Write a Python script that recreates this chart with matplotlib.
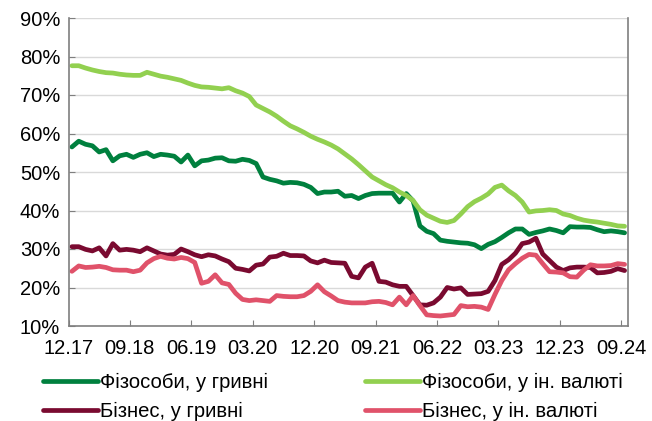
import numpy as np
import matplotlib
matplotlib.use('Agg')
import matplotlib.pyplot as plt

plt.rcParams['font.family'] = ['Liberation Sans', 'DejaVu Sans']

# підписи осі X (кожні 9 місяців, 12.17 - 09.24)
x_labels = ['12.17', '09.18', '06.19', '03.20', '12.20', '09.21', '06.22', '03.23', '12.23', '09.24']

# частки, %
hh_uah = [56.5, 58.0, 57.2, 56.8, 55.2, 55.8, 52.9, 54.2, 54.6, 53.8,
          54.6, 55.0, 54.0, 54.6, 54.4, 54.1, 52.6, 54.4, 51.6, 52.9,
          53.1, 53.6, 53.7, 52.9, 52.8, 53.3, 53.0, 52.2, 48.7, 48.1,
          47.7, 47.1, 47.3, 47.2, 46.8, 46.0, 44.4, 44.8, 44.8, 45.0,
          43.7, 43.9, 43.1, 43.9, 44.4, 44.5, 44.5, 44.5, 42.2, 44.4,
          42.5, 36.0, 34.6, 34.0, 32.3, 32.0, 31.8, 31.6, 31.5, 31.1,
          30.1, 31.2, 31.9, 33.0, 34.2, 35.2, 35.2, 33.8, 34.3, 34.7,
          35.2, 34.8, 34.2, 35.8, 35.7, 35.7, 35.6, 35.0, 34.5, 34.7,
          34.5, 34.2]
hh_fx = [77.6, 77.6, 77.0, 76.5, 76.1, 75.8, 75.7, 75.4, 75.2, 75.1,
         75.1, 75.9, 75.4, 74.9, 74.6, 74.2, 73.8, 73.1, 72.5, 72.1,
         72.0, 71.8, 71.6, 71.9, 71.1, 70.5, 69.6, 67.4, 66.5, 65.6,
         64.5, 63.2, 62.0, 61.2, 60.3, 59.3, 58.5, 57.8, 57.0, 56.0,
         54.7, 53.4, 51.9, 50.3, 48.7, 47.7, 46.7, 45.9, 44.8, 43.9,
         42.6, 40.2, 38.8, 38.0, 37.2, 36.9, 37.4, 39.1, 41.0, 42.3,
         43.2, 44.3, 46.0, 46.6, 45.1, 43.9, 42.2, 39.6, 39.9, 40.0,
         40.2, 40.0, 39.1, 38.7, 38.0, 37.5, 37.2, 37.0, 36.7, 36.4,
         36.0, 35.9]
biz_uah = [30.6, 30.6, 29.9, 29.5, 30.3, 28.2, 31.4, 29.7, 29.9, 29.7,
           29.3, 30.3, 29.5, 28.7, 28.4, 28.6, 30.0, 29.3, 28.5, 28.0,
           28.5, 28.2, 27.4, 26.7, 25.0, 24.7, 24.3, 25.8, 26.1, 27.9,
           28.1, 28.9, 28.3, 28.3, 28.2, 26.9, 26.4, 27.1, 26.5, 26.4,
           26.3, 22.9, 22.5, 25.3, 26.3, 21.6, 21.4, 20.7, 20.3, 20.3,
           17.9, 15.5, 15.4, 16.0, 17.5, 20.0, 19.6, 19.9, 18.2, 18.3,
           18.4, 19.0, 21.8, 26.0, 27.2, 28.9, 31.4, 31.8, 32.8, 28.7,
           27.0, 25.3, 24.4, 25.1, 25.3, 25.3, 25.2, 23.8, 23.9, 24.2,
           24.9, 24.4]
biz_fx = [24.2, 25.6, 25.2, 25.3, 25.5, 25.2, 24.6, 24.5, 24.5, 24.1,
          24.5, 26.4, 27.5, 28.1, 27.6, 27.4, 27.8, 27.5, 26.5, 21.1,
          21.6, 23.3, 21.2, 20.8, 18.5, 16.9, 16.6, 16.8, 16.6, 16.4,
          17.9, 17.7, 17.6, 17.6, 17.9, 19.0, 20.7, 18.9, 17.8, 16.6,
          16.2, 16.0, 16.0, 16.0, 16.3, 16.4, 16.1, 15.5, 17.5, 15.5,
          17.9, 15.3, 12.9, 12.7, 12.6, 12.8, 13.0, 15.3, 15.0, 15.1,
          14.9, 14.3, 18.2, 21.8, 24.6, 26.2, 27.6, 28.6, 28.4, 26.2,
          24.1, 24.0, 23.8, 22.8, 22.7, 24.5, 25.9, 25.6, 25.6, 25.7,
          26.2, 26.0]

x = np.arange(len(hh_uah)) + 0.5

fig = plt.figure(figsize=(6.52, 4.21), dpi=100)
ax = fig.add_axes([68.5 / 652, 1 - 326 / 421, (628 - 68.5) / 652, (326 - 18) / 421])

l1, = ax.plot(x, hh_uah, color='#00803E', lw=3.4, solid_capstyle='round', solid_joinstyle='round')
l2, = ax.plot(x, hh_fx, color='#92D050', lw=3.4, solid_capstyle='round', solid_joinstyle='round')
l3, = ax.plot(x, biz_uah, color='#7A0A30', lw=3.4, solid_capstyle='round', solid_joinstyle='round')
l4, = ax.plot(x, biz_fx, color='#E0526A', lw=3.4, solid_capstyle='round', solid_joinstyle='round')

ax.set_xlim(0, len(hh_uah))
ax.set_ylim(10, 90)
ax.set_yticks(range(10, 91, 10))
ax.set_yticklabels([f'{v}%' for v in range(10, 91, 10)])
ax.set_xticks(range(0, 82, 9))
ax.set_xticklabels(x_labels)

ax.grid(axis='y', color='#D9D9D9', lw=1)
ax.set_axisbelow(True)
ax.spines['top'].set_visible(False)
for s in ['left', 'bottom', 'right']:
    ax.spines[s].set_color('#7F7F7F')
    ax.spines[s].set_linewidth(1.2)
ax.tick_params(axis='both', direction='in', length=4, color='#7F7F7F', labelsize=14.5, colors='black')
ax.tick_params(axis='x', pad=9)
ax.tick_params(axis='y', pad=6)

fig.legend([l1, l3, l2, l4],
           ['Фізособи, у гривні', 'Бізнес, у гривні', 'Фізособи, у ін. валюті', 'Бізнес, у ін. валюті'],
           ncol=2, loc='upper left', bbox_to_anchor=(43 / 652, 1 - 373 / 421), frameon=False,
           fontsize=14.6, handlelength=2.7, handletextpad=0.1, columnspacing=4.8,
           labelspacing=0.48, borderpad=0, borderaxespad=0)

fig.savefig('out.png', dpi=100)
